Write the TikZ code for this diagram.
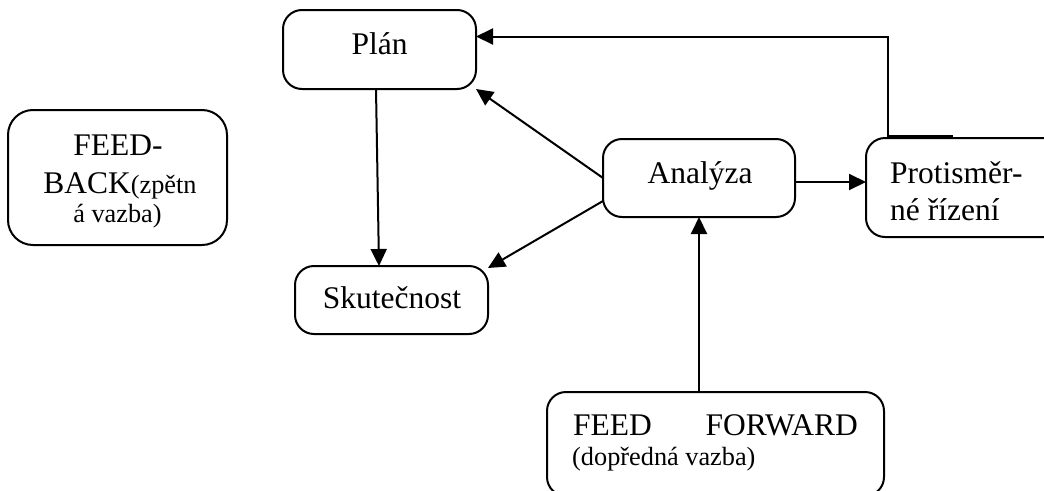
\documentclass[tikz,border=0pt]{standalone}
\usepackage{fontspec}
\setmainfont{Liberation Serif}
\usetikzlibrary{arrows.meta}
\newcommand{\bigsz}{\fontsize{31.5}{36}\selectfont}
\newcommand{\smallsz}{\fontsize{26.3}{30}\selectfont}

\begin{document}
\begin{tikzpicture}[x=1pt,y=-1pt,
  box/.style={draw, line width=2pt, rounded corners=19pt, inner sep=0pt,
              outer sep=0pt, anchor=north west},
  txt/.style={inner sep=0pt, font=\bigsz},
  stxt/.style={inner sep=0pt, font=\smallsz},
  link/.style={line width=2pt, -{Triangle[length=17pt,width=16pt]}}]

\useasboundingbox (0,0) rectangle (1044,490);
\clip (0,0) rectangle (1044,490);

% boxes
\node[box, rounded corners=25pt, minimum width=219pt, minimum height=135pt] (fb) at (8,110) {};
\node[box, minimum width=193pt, minimum height=79pt] (plan) at (283,10) {};
\node[box, minimum width=192pt, minimum height=78pt] (anal) at (603,139) {};
\node[box, minimum width=224pt, minimum height=99pt] (prot) at (866,138) {};
\node[box, minimum width=193pt, minimum height=68pt] (skut) at (295,266) {};
\node[box, minimum width=337pt, minimum height=104pt] (ff) at (547,392) {};

% texts
\node[txt, anchor=base] (fbA) at (118,155) {FEED-};
\node[txt, anchor=base] (fbB) at (120,193) {BACK{\smallsz(zpětn}};
\node[stxt, anchor=base] (fbC) at (117.5,222) {á vazba)};
\node[txt, anchor=base] (planT) at (379.5,54) {Plán};
\node[txt, anchor=base] (analT) at (700,183) {Analýza};
\node[txt, anchor=base] (skutT) at (392,308) {Skutečnost};
\node[txt, anchor=base west] (protA) at (890,183) {Protisměr-};
\node[txt, anchor=base west] (protB) at (890,220) {né řízení};
\node[txt, anchor=base west] (ffA) at (573,435) {FEED};
\node[txt, anchor=base east] (ffB) at (858,435) {FORWARD};
\node[stxt, anchor=base west] (ffC) at (572,465) {(dopředná vazba)};

% connectors
\draw[link] ([xshift=-3.5pt]plan.south) -- ([xshift=-12.5pt]skut.north);
\draw[link] (anal.west) -- (plan.south east);
\draw[link] ([yshift=-23pt]anal.west) -- ([yshift=-2pt]skut.north east);
\draw[link] ([yshift=-4pt]anal.east) -- ([yshift=-4pt]anal.east -| prot.west);
\draw[link] (anal.south |- ff.north) -- (anal.south);
\draw[link] ([xshift=22pt]prot.north west) |- ([yshift=13pt]plan.east);
\draw[line width=3.5pt] ([xshift=22pt,yshift=1pt]prot.north west) -- ([xshift=87pt,yshift=1pt]prot.north west);
\end{tikzpicture}
\end{document}
